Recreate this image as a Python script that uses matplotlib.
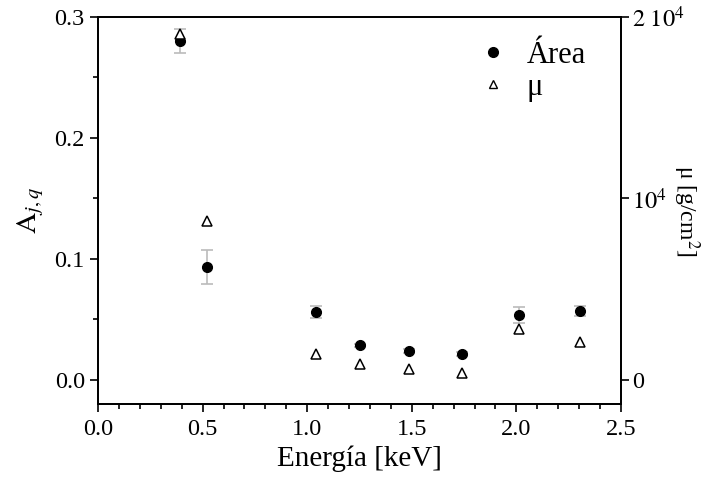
import matplotlib
matplotlib.use('Agg')
import matplotlib.pyplot as plt
from matplotlib.lines import Line2D
from matplotlib.ticker import MultipleLocator, FixedLocator

plt.rcParams['font.family'] = ['Liberation Serif', 'DejaVu Serif']
plt.rcParams['mathtext.fontset'] = 'stix'

# data
energy = [0.392, 0.521, 1.040, 1.253, 1.487, 1.739, 2.012, 2.305]
area = [0.280, 0.0934, 0.0562, 0.0284, 0.0240, 0.0215, 0.0537, 0.0567]
area_err = [0.010, 0.014, 0.005, 0.0015, 0.0015, 0.0015, 0.0065, 0.004]
mu = [19050, 8760, 1430, 880, 610, 400, 2810, 2060]

fig = plt.figure(figsize=(7.16, 4.83), dpi=100)
ax = fig.add_axes([98 / 716, 1 - 404 / 483, (621 - 98) / 716, (404 - 17) / 483])
ax2 = ax.twinx()

ax.errorbar(energy, area, yerr=area_err, fmt='o', color='black', markersize=7,
            ecolor='#bbbbbb', elinewidth=1.2, capsize=4, capthick=1.2, zorder=3)
ax2.plot(energy, mu, linestyle='none', marker='^', markersize=7.5,
         markerfacecolor='white', markeredgecolor='black', markeredgewidth=1.1)

ax.set_xlim(0, 2.5)
ax.set_ylim(-0.02, 0.3)
ax2.set_ylim(-0.02 / 0.3 * 20000, 20000)

ax.xaxis.set_major_locator(MultipleLocator(0.5))
ax.xaxis.set_minor_locator(MultipleLocator(0.1))
ax.yaxis.set_major_locator(MultipleLocator(0.1))
ax.yaxis.set_minor_locator(MultipleLocator(0.05))
ax.xaxis.set_major_formatter(plt.FuncFormatter(lambda v, p: f'{v:.1f}'))
ax.yaxis.set_major_formatter(plt.FuncFormatter(lambda v, p: f'{v:.1f}'))

ax2.yaxis.set_major_locator(FixedLocator([0, 10000, 20000]))
ax2.set_yticklabels(['0', '$10^4$', '$2\\ 10^4$'])

for a in (ax, ax2):
    a.tick_params(which='major', direction='out', length=6, width=1.2, labelsize=17.5)
    a.tick_params(which='minor', direction='out', length=3.5, width=1.2)
    for s in a.spines.values():
        s.set_linewidth(1.3)
ax.tick_params(axis='x', pad=5)
ax2.tick_params(axis='y', pad=2)

ax.set_xlabel('Energía [keV]', fontsize=21, labelpad=4)
ax.set_ylabel('$\\mathrm{A}_{j,q}$', fontsize=21, labelpad=6)
ax2.set_ylabel('μ [g/cm$^2$]', fontsize=17, rotation=270, labelpad=12)

handles = [
    Line2D([], [], linestyle='none', marker='o', markersize=7, color='black'),
    Line2D([], [], linestyle='none', marker='^', markersize=6,
           markerfacecolor='white', markeredgecolor='black', markeredgewidth=1.0),
]
ax2.legend(handles, ['Área', 'μ'], loc='upper right', frameon=False, fontsize=22,
           handletextpad=0.5, handlelength=1.2, labelspacing=0.1,
           bbox_to_anchor=(0.985, 1.01))

fig.savefig('out.png', dpi=100)
